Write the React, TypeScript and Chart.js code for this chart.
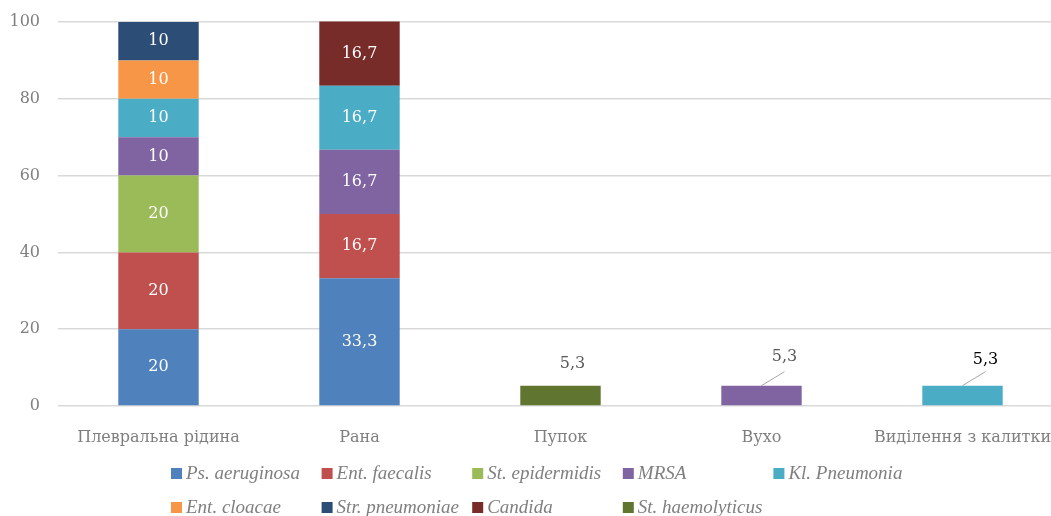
import React, { useEffect, useRef } from "react";
import { Chart, registerables } from "chart.js";

Chart.register(...registerables);

const categories = ["Плевральна рідина", "Рана", "Пупок", "Вухо", "Виділення з калитки"];
const seriesNames = [
  "Ps. aeruginosa",
  "Ent. faecalis",
  "St. epidermidis",
  "MRSA",
  "Kl. Pneumonia",
  "Ent. cloacae",
  "Str. pneumoniae",
  "Candida",
  "St. haemolyticus",
];
const psAeruginosa = [20, 33.3, null, null, null];
const entFaecalis = [20, 16.7, null, null, null];
const stEpidermidis = [20, null, null, null, null];
const mrsa = [10, 16.7, null, 5.3, null];
const klPneumonia = [10, 16.7, null, null, 5.3];
const entCloacae = [10, null, null, null, null];
const strPneumoniae = [10, null, null, null, null];
const candida = [null, 16.7, null, null, null];
const stHaemolyticus = [null, null, 5.3, null, null];
const yTicks = [0, 20, 40, 60, 80, 100];

const seriesValues = [
  psAeruginosa,
  entFaecalis,
  stEpidermidis,
  mrsa,
  klPneumonia,
  entCloacae,
  strPneumoniae,
  candida,
  stHaemolyticus,
];
const seriesColors = [
  "#4f81bd",
  "#c0504d",
  "#9bbb59",
  "#8064a2",
  "#4bacc6",
  "#f79646",
  "#2c4d75",
  "#772c2a",
  "#5f7530",
];

// label placement style for the small single bars (outside the bar, some with a leader line)
const outsideLabelStyle: Record<number, { dx: number; dy: number; leader: boolean; color: string }> = {
  2: { dx: 12, dy: -22, leader: false, color: "#595959" },
  3: { dx: 23, dy: -29, leader: true, color: "#595959" },
  4: { dx: 23, dy: -26, leader: true, color: "#000000" },
};

const FONT = "'DejaVu Serif', 'Liberation Serif', serif";
const LEGEND_FONT = "'Liberation Serif', serif";

const fmt = (v: number) => String(v).replace(".", ",");

const labelPlugin = {
  id: "valueLabels",
  afterDatasetsDraw(chart: any) {
    const ctx = chart.ctx;
    ctx.save();
    ctx.textAlign = "center";
    ctx.textBaseline = "middle";
    chart.data.datasets.forEach((ds: any, di: number) => {
      const meta = chart.getDatasetMeta(di);
      meta.data.forEach((bar: any, i: number) => {
        const v = ds.data[i];
        if (v == null) return;
        const st = outsideLabelStyle[i];
        if (st) {
          const lx = bar.x + st.dx;
          const ly = bar.y + st.dy;
          if (st.leader) {
            ctx.strokeStyle = "#a6a6a6";
            ctx.lineWidth = 1;
            ctx.beginPath();
            ctx.moveTo(bar.x, bar.y);
            ctx.lineTo(lx, bar.y - 14);
            ctx.stroke();
          }
          ctx.fillStyle = st.color;
          ctx.font = `16px ${FONT}`;
          ctx.fillText(fmt(v), lx, ly);
        } else {
          ctx.fillStyle = "#ffffff";
          ctx.font = `16px ${FONT}`;
          ctx.fillText(fmt(v), bar.x, (bar.y + bar.base) / 2);
        }
      });
    });
    ctx.restore();
  },
};

const legendPlugin = {
  id: "gridLegend",
  afterDraw(chart: any) {
    const ctx = chart.ctx;
    ctx.save();
    const x0 = 171;
    const colW = 150.6;
    const rows = [473, 507];
    seriesNames.forEach((name, i) => {
      const r = Math.floor(i / 5);
      const c = i % 5;
      const x = x0 + c * colW;
      const y = rows[r];
      ctx.fillStyle = seriesColors[i];
      ctx.fillRect(x, y - 5, 11, 11);
      ctx.fillStyle = "#7f7f7f";
      ctx.font = `italic 19px ${LEGEND_FONT}`;
      ctx.textAlign = "left";
      ctx.textBaseline = "middle";
      ctx.fillText(name, x + 15, y + 1);
    });
    ctx.restore();
  },
};

export default function App() {
  const ref = useRef<HTMLCanvasElement | null>(null);
  useEffect(() => {
    if (!ref.current) return;
    const chart = new Chart(ref.current, {
      type: "bar",
      data: {
        labels: categories,
        datasets: seriesNames.map((name, i) => ({
          label: name,
          data: seriesValues[i],
          backgroundColor: seriesColors[i],
          borderWidth: 0,
          categoryPercentage: 1,
          barPercentage: 0.4,
          clip: false as any,
        })),
      },
      options: {
        responsive: false,
        animation: false,
        devicePixelRatio: 1,
        layout: { padding: { top: 22, right: 3, left: 0, bottom: 0 } },
        plugins: {
          legend: { display: false },
          tooltip: { enabled: false },
        },
        scales: {
          x: {
            stacked: true,
            grid: { display: false },
            border: { display: false },
            ticks: {
              color: "#7f7f7f",
              font: { family: FONT, size: 16 },
              padding: 14,
              maxRotation: 0,
              autoSkip: false,
            },
            afterFit(scale: any) {
              scale.height = 110;
            },
          },
          y: {
            stacked: true,
            min: 0,
            max: 100,
            afterBuildTicks(scale: any) {
              scale.ticks = yTicks.map((v) => ({ value: v }));
            },
            grid: { color: "#d9d9d9", lineWidth: 1.5, drawTicks: false },
            border: { display: false },
            ticks: {
              color: "#7f7f7f",
              font: { family: FONT, size: 16 },
              padding: 18,
            },
            afterFit(scale: any) {
              scale.width = 58;
              scale.paddingTop = 0;
              scale.paddingBottom = 0;
            },
          },
        },
      },
      plugins: [labelPlugin, legendPlugin],
    });
    return () => chart.destroy();
  }, []);
  return (
    <div
      style={{
        position: "fixed",
        left: 0,
        top: 0,
        width: 1051,
        height: 516,
        overflow: "hidden",
        background: "#fff",
      }}
    >
      <canvas ref={ref} width={1066} height={516} style={{ display: "block" }} />
    </div>
  );
}
